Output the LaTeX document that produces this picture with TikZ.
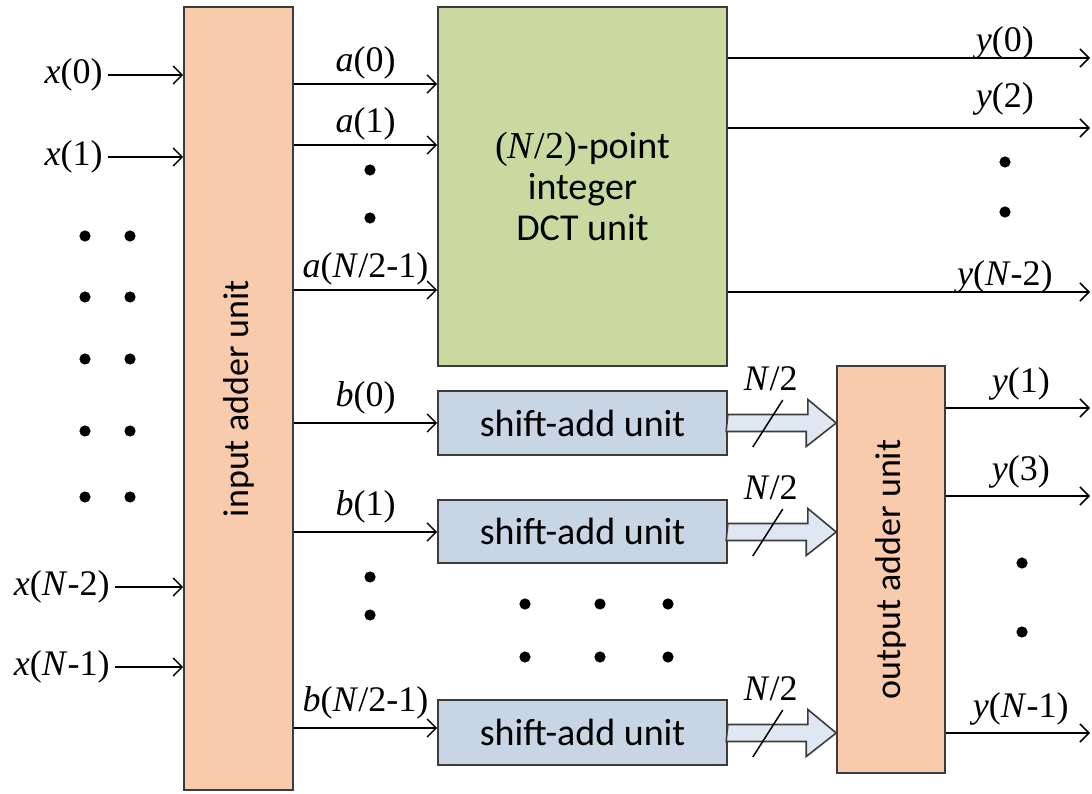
\documentclass[tikz,border=0pt]{standalone}
\usepackage{fontspec}
\usepackage{graphicx}
\setmainfont{Liberation Serif}
\newfontfamily\calfont{Carlito}
\usetikzlibrary{arrows.meta, positioning, calc}
\definecolor{adderpeach}{RGB}{248,203,173}
\definecolor{dctgreen}{RGB}{200,218,160}
\definecolor{shiftblue}{RGB}{200,213,229}
\definecolor{fatblue}{RGB}{222,231,242}
\definecolor{boxline}{RGB}{60,60,60}
\tikzset{
  adderblock/.style={
    rectangle, draw=boxline, line width=0.8pt, fill=adderpeach,
    inner sep=0pt, font=\calfont\fontsize{18}{20}\selectfont
  },
  dctblock/.style={
    rectangle, draw=boxline, line width=0.8pt, fill=dctgreen,
    minimum width=144.5pt, minimum height=179.5pt,
    align=center, font=\calfont\fontsize{19}{20.5}\selectfont
  },
  shiftblock/.style={
    rectangle, draw=boxline, line width=0.8pt, fill=shiftblue,
    minimum width=144.5pt, font=\calfont\fontsize{19}{21}\selectfont
  },
  sig/.style={inner sep=0pt, font=\fontsize{18}{20}\selectfont},
  inlabel/.style={inner sep=2.5pt, font=\fontsize{18}{20}\selectfont},
  sigarrow/.style={-{Straight Barb[length=4.5pt,width=9pt]}, line width=0.75pt},
  fatarrow/.style={draw=boxline, line width=0.8pt, fill=fatblue, line join=miter},
  dot/.style={fill=black}
}
\begin{document}
\begin{tikzpicture}[x=0.5pt, y=0.5pt]
\useasboundingbox (0,0) rectangle (1092,793);

% Units
\node[adderblock, minimum width=54.5pt, minimum height=391.5pt] (inadd) at (238.5,394.5) {\rotatebox{90}{input adder unit}};
\node[dctblock] (dct) at (582.5,606.5) {{\rmfamily(\textit{N}/2)}-point\\integer\\DCT unit};
\node[shiftblock, minimum height=32pt] (sa0) at (582.5,370) {shift-add unit};
\node[shiftblock, minimum height=31.5pt] (sa1) at (582.5,261.5) {shift-add unit};
\node[shiftblock, minimum height=32.5pt] (sa2) at (582.5,60.5) {shift-add unit};
\node[adderblock, minimum width=54pt, minimum height=203.5pt] (outadd) at (891,223.5) {\rotatebox{90}{output adder unit}};
\coordinate (rightedge) at (1090,0);

% Inputs x(n)
\foreach \nm/\xx/\yy/\txt in {x0/108/718/{\textit{x}(0)}, x1/108/636/{\textit{x}(1)}, x2/115/206/{\textit{x}(\textit{N}-2)}, x3/115/126/{\textit{x}(\textit{N}-1)}}{
  \node[inlabel, anchor=east] (\nm) at (\xx,\yy) {\txt};
  \draw[sigarrow] (\nm.east) -- (\nm.east -| inadd.west);
}

% Even part a(n) into DCT
\foreach \yy/\txt in {709/{\textit{a}(0)}, 648/{\textit{a}(1)}, 503/{\textit{a}(\textit{N}/2-1)}}
  \draw[sigarrow] (inadd.east |- 0,\yy) -- (dct.west |- 0,\yy) node[sig, midway, above=2pt] {\txt};

% Odd part b(n) into shift-add units
\foreach \yy/\txt in {370/{\textit{b}(0)}, 261/{\textit{b}(1)}, 65/{\textit{b}(\textit{N}/2-1)}}
  \draw[sigarrow] (inadd.east |- 0,\yy) -- (sa0.west |- 0,\yy) node[sig, midway, above=4pt] {\txt};

% Even outputs
\foreach \yy/\txt/\gap in {735/{\textit{y}(0)}/-1pt, 665/{\textit{y}(2)}/6pt, 501/{\textit{y}(\textit{N}-2)}/-1pt}
  \draw[sigarrow] (dct.east |- 0,\yy) -- (rightedge |- 0,\yy) node[sig, pos=0.765, above=\gap] {\txt};

% Odd outputs
\foreach \yy/\txt in {385/{\textit{y}(1)}, 297/{\textit{y}(3)}, 60/{\textit{y}(\textit{N}-1)}}
  \draw[sigarrow] (outadd.east |- 0,\yy) -- (rightedge |- 0,\yy) node[sig, pos=0.52, above=3.5pt] {\txt};

% Bus arrows N/2
\foreach \s/\yy in {sa0/370, sa1/261, sa2/60}{
  \coordinate (fa) at (\s.east |- 0,\yy);
  \draw[fatarrow] ([yshift=4.25pt]fa) -- ++(80,0) -- ++(0,15) -- (fa -| outadd.west) -- ++(-30,-23.5) -- ++(0,15) -- ++(-80,0) -- cycle;
  \draw[line width=0.75pt] ([shift={(25,-24)}]fa) -- ([shift={(55,23)}]fa);
  \node[sig] (bus\s) at ([shift={(43,44)}]fa) {\textit{N}/2};
}

% Dots
\foreach \px/\py in {85/557, 130/557, 85/496, 130/496, 85/434, 130/434, 85/362, 130/362, 85/296, 130/296,
                     370/623, 370/575, 370/216, 370/178,
                     525/189, 600/189, 668/189, 525/136, 600/136, 668/136,
                     1005/631, 1005/581, 1022/230, 1022/161}
  \fill[dot] (\px,\py) circle (2.8pt);

\end{tikzpicture}
\end{document}
